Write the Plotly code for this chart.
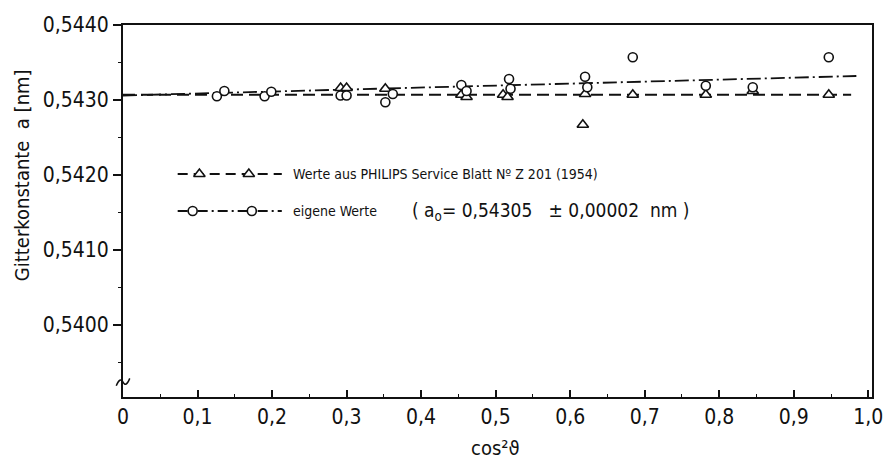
import plotly.graph_objects as go

# ---- data ----
philips_x = [0.292, 0.300, 0.352, 0.454, 0.461, 0.510, 0.516, 0.620, 0.617, 0.684, 0.782, 0.845, 0.947]
philips_y = [0.54316, 0.54316, 0.54315, 0.54307, 0.54304, 0.54307, 0.54304, 0.54308, 0.54267, 0.54307, 0.54307, 0.54312, 0.54307]

eigene_x = [0.126, 0.136, 0.190, 0.199, 0.292, 0.300, 0.352, 0.362, 0.454, 0.461,
            0.518, 0.520, 0.620, 0.623, 0.684, 0.782, 0.845, 0.947]
eigene_y = [0.54305, 0.54312, 0.54305, 0.54311, 0.54306, 0.54306, 0.54297, 0.54308, 0.54320, 0.54312,
            0.54328, 0.54315, 0.54331, 0.54317, 0.54357, 0.54319, 0.54317, 0.54357]

fit_x = [0.0, 0.977]
fit_philips = [0.54307, 0.54307]
fit_x2 = [0.0, 0.984]
fit_eigene = [0.54306, 0.54332]

x_ticks = [0, 0.1, 0.2, 0.3, 0.4, 0.5, 0.6, 0.7, 0.8, 0.9, 1.0]
x_ticktext = ["0", "0,1", "0,2", "0,3", "0,4", "0,5", "0,6", "0,7", "0,8", "0,9", "1,0"]
y_ticks = [0.5400, 0.5410, 0.5420, 0.5430, 0.5440]
y_ticktext = ["0,5400", "0,5410", "0,5420", "0,5430", "0,5440"]

legend_philips = "Werte aus PHILIPS Service Blatt Nº Z 201 (1954)"
legend_eigene = "eigene Werte"
legend_a0 = "( a<sub>o</sub>= 0,54305   ± 0,00002  nm )"

FONT = "DejaVu Sans Condensed, Liberation Sans Narrow, DejaVu Sans, sans-serif"
BLACK = "#111111"

fig = go.Figure()

# fitted lines
fig.add_trace(go.Scatter(x=fit_x, y=fit_philips, mode="lines",
                         line=dict(color=BLACK, width=1.8, dash="12px,6px"), showlegend=False))
fig.add_trace(go.Scatter(x=fit_x2, y=fit_eigene, mode="lines",
                         line=dict(color=BLACK, width=1.8, dash="14px,4px,2px,4px"), showlegend=False))

# points
fig.add_trace(go.Scatter(x=philips_x, y=philips_y, mode="markers",
                         marker=dict(symbol="triangle-up", size=10, color="white",
                                     line=dict(color=BLACK, width=1.6)), showlegend=False))
fig.add_trace(go.Scatter(x=eigene_x, y=eigene_y, mode="markers",
                         marker=dict(symbol="circle", size=9, color="white",
                                     line=dict(color=BLACK, width=1.6)), showlegend=False))

# hand-drawn legend on an overlay [0,1] axis pair
leg_line_x = [0.073, 0.212]
leg_tri_x = [0.102, 0.168]
leg_circ_x = [0.093, 0.172]
row1, row2 = 0.5995, 0.50
fig.add_trace(go.Scatter(x=leg_line_x, y=[row1, row1], mode="lines", xaxis="x2", yaxis="y2",
                         line=dict(color=BLACK, width=1.8, dash="10px,6px"), showlegend=False))
fig.add_trace(go.Scatter(x=leg_tri_x, y=[row1, row1], mode="markers", xaxis="x2", yaxis="y2",
                         marker=dict(symbol="triangle-up", size=10, color="white",
                                     line=dict(color=BLACK, width=1.6)), showlegend=False))
fig.add_trace(go.Scatter(x=leg_line_x, y=[row2, row2], mode="lines", xaxis="x2", yaxis="y2",
                         line=dict(color=BLACK, width=1.8, dash="10px,4px,2px,4px"), showlegend=False))
fig.add_trace(go.Scatter(x=leg_circ_x, y=[row2, row2], mode="markers", xaxis="x2", yaxis="y2",
                         marker=dict(symbol="circle", size=9, color="white",
                                     line=dict(color=BLACK, width=1.6)), showlegend=False))

annotations = [
    dict(x=0.224, y=row1, xref="paper", yref="paper", text=legend_philips, showarrow=False,
         xanchor="left", yanchor="middle", font=dict(family=FONT, size=14, color=BLACK)),
    dict(x=0.224, y=row2, xref="paper", yref="paper", text=legend_eigene, showarrow=False,
         xanchor="left", yanchor="middle", font=dict(family=FONT, size=14, color=BLACK)),
    dict(x=0.383, y=row2, xref="paper", yref="paper", text=legend_a0, showarrow=False,
         xanchor="left", yanchor="middle", font=dict(family=FONT, size=19, color=BLACK)),
    dict(x=-0.135, y=0.596, xref="paper", yref="paper", text="Gitterkonstante  a [nm]",
         showarrow=False, textangle=-90, xanchor="center", yanchor="middle",
         font=dict(family=FONT, size=20, color=BLACK)),
    dict(x=0.497, y=-0.137, xref="paper", yref="paper", text="cos²ϑ",
         showarrow=False, xanchor="center", yanchor="middle",
         font=dict(family=FONT, size=20, color=BLACK)),
]

shapes = [
    # axis break squiggle
    dict(type="path", xref="paper", yref="paper",
         path="M -0.009 0.03 Q -0.004 0.055 0.0 0.04 Q 0.004 0.025 0.009 0.05",
         line=dict(color=BLACK, width=1.5)),
]

fig.update_layout(
    width=895, height=461,
    margin=dict(l=123, r=18, t=25, b=64),
    paper_bgcolor="white", plot_bgcolor="white",
    font=dict(family=FONT, color=BLACK),
    annotations=annotations, shapes=shapes,
    xaxis=dict(range=[0, 1.005], tickvals=x_ticks, ticktext=x_ticktext,
               ticks="inside", ticklen=7, tickwidth=1.5, tickcolor=BLACK,
               minor=dict(dtick=0.05, tick0=0, ticks="inside", ticklen=3, tickwidth=1.2, tickcolor=BLACK),
               showline=True, linecolor=BLACK, linewidth=2, mirror=True,
               showgrid=False, zeroline=False,
               tickfont=dict(family=FONT, size=21, color=BLACK)),
    yaxis=dict(range=[0.53904, 0.5440], tickvals=y_ticks, ticktext=y_ticktext,
               ticks="outside", ticklen=8, tickwidth=1.5, tickcolor=BLACK,
               minor=dict(dtick=0.0005, tick0=0.5400, ticks="outside", ticklen=3, tickwidth=1.2, tickcolor=BLACK),
               showline=True, linecolor=BLACK, linewidth=2, mirror=True,
               showgrid=False, zeroline=False,
               tickfont=dict(family=FONT, size=21, color=BLACK)),
    xaxis2=dict(range=[0, 1], overlaying="x", visible=False, fixedrange=True),
    yaxis2=dict(range=[0, 1], overlaying="y", visible=False, fixedrange=True),
)

fig.write_html("out.html")
